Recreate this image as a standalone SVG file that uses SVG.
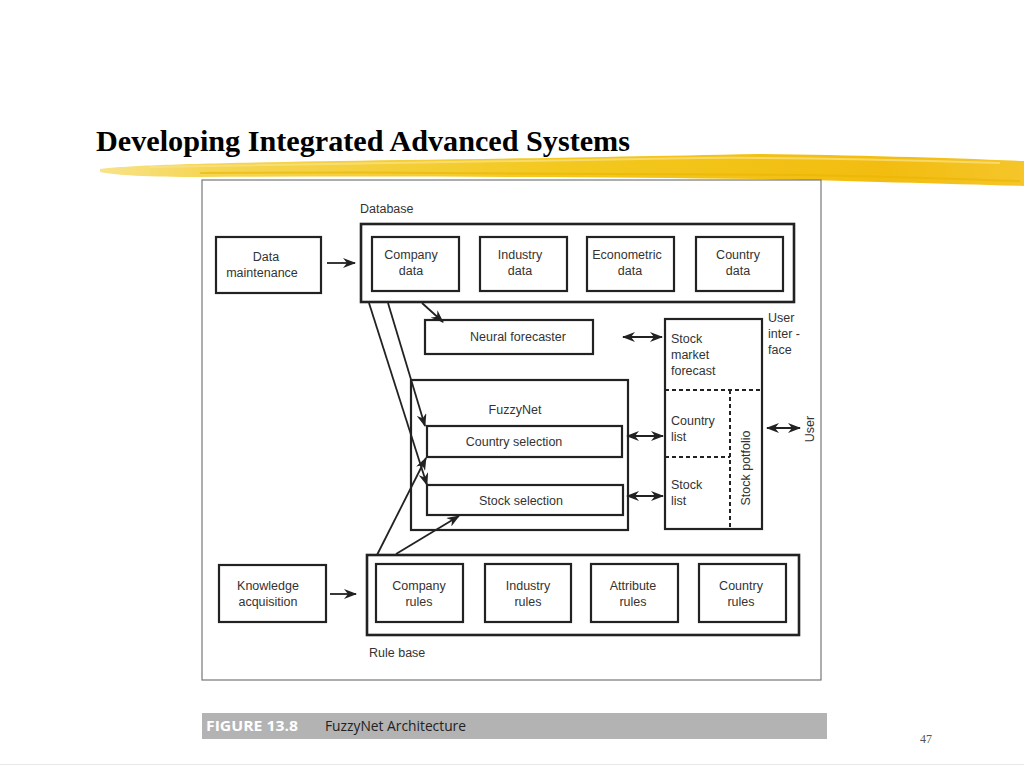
<svg xmlns="http://www.w3.org/2000/svg" width="1024" height="768" viewBox="0 0 1024 768">
<style>
.box{fill:#fff;stroke:#222;stroke-width:2.2}
.outer{fill:#fff;stroke:#222;stroke-width:2.6}
.t{font-family:"Liberation Sans",Arial,sans-serif;font-size:12.5px;fill:#333}
.tc{text-anchor:middle}
.dash{stroke:#222;stroke-width:2;stroke-dasharray:4,3;fill:none}
.ln{stroke:#222;stroke-width:1.8;fill:none}
</style>
<defs>
<marker id="ah" markerWidth="13" markerHeight="10" refX="12" refY="5" orient="auto" markerUnits="userSpaceOnUse">
<path d="M0,0 L13,5 L0,10 L4,5 Z" fill="#222"/>
</marker>
<marker id="as" markerWidth="13" markerHeight="10" refX="1" refY="5" orient="auto" markerUnits="userSpaceOnUse">
<path d="M13,0 L0,5 L13,10 L9,5 Z" fill="#222"/>
</marker>
<linearGradient id="yg" x1="0" x2="1" y1="0" y2="0">
<stop offset="0" stop-color="#f8e38a"/>
<stop offset="0.12" stop-color="#f5d552"/>
<stop offset="0.5" stop-color="#f3c81e"/>
<stop offset="0.85" stop-color="#f2bd10"/>
<stop offset="1" stop-color="#f5c52a"/>
</linearGradient>
</defs>
<rect width="1024" height="768" fill="#fff"/>
<g id="brush">
<path d="M100,169 C130,165 200,163 400,160 C500,159 600,157 760,154 C850,155 950,158 1024,161 L1024,186 C950,184 850,181 760,179 C600,177 400,176 200,177 C150,177 112,175 100,172 Z" fill="url(#yg)"/>
<path d="M150,167 C300,163 500,161 700,158 C800,157 900,160 1000,163" stroke="#fbe38a" stroke-width="2" fill="none" opacity="0.7"/>
<path d="M200,173 C400,172 600,173 800,175 C880,176 950,179 1020,181" stroke="#e9b400" stroke-width="2" fill="none" opacity="0.6"/>
</g>
<text x="96" y="151" font-family="Liberation Serif,'Times New Roman',serif" font-weight="bold" font-size="30" fill="#000" textLength="534" lengthAdjust="spacingAndGlyphs">Developing Integrated Advanced Systems</text>
<rect x="202" y="180" width="619" height="500" fill="#fff" stroke="#777" stroke-width="1.2"/>

<g id="database">
<text class="t" x="360" y="213">Database</text>
<rect class="outer" x="361" y="224" width="433" height="78"/>
</g>
<g id="company-data"><rect class="box" x="372" y="237" width="87" height="54"/><text class="t tc" x="411" y="259">Company</text><text class="t tc" x="411" y="275">data</text></g>
<g id="industry-data"><rect class="box" x="480" y="237" width="87" height="54"/><text class="t tc" x="520" y="259">Industry</text><text class="t tc" x="520" y="275">data</text></g>
<g id="econometric-data"><rect class="box" x="587" y="237" width="87" height="54"/><text class="t tc" x="627" y="259">Econometric</text><text class="t tc" x="630" y="275">data</text></g>
<g id="country-data"><rect class="box" x="696" y="237" width="87" height="54"/><text class="t tc" x="738" y="259">Country</text><text class="t tc" x="738" y="275">data</text></g>
<g id="data-maintenance"><rect class="box" x="216" y="237" width="105" height="56"/><text class="t tc" x="266" y="261">Data</text><text class="t tc" x="262" y="277">maintenance</text></g>

<g id="neural-forecaster"><rect class="box" x="425" y="320" width="168" height="34"/><text class="t tc" x="518" y="341">Neural forecaster</text></g>

<g id="user-interface">
<rect class="box" x="665" y="319" width="97" height="210"/>
<line class="dash" x1="665" y1="390" x2="762" y2="390"/>
<line class="dash" x1="730" y1="390" x2="730" y2="529"/>
<line class="dash" x1="665" y1="457" x2="730" y2="457"/>
<text class="t" x="671" y="343">Stock</text><text class="t" x="671" y="359">market</text><text class="t" x="671" y="375">forecast</text>
<text class="t" x="671" y="425">Country</text><text class="t" x="671" y="441">list</text>
<text class="t" x="671" y="489">Stock</text><text class="t" x="671" y="505">list</text>
<text class="t tc" transform="translate(750,468) rotate(-90)">Stock potfolio</text>
<text class="t" x="768" y="322">User</text><text class="t" x="768" y="338">inter -</text><text class="t" x="768" y="354">face</text>
</g>
<g id="user"><text class="t tc" transform="translate(814,429) rotate(-90)">User</text></g>

<g id="fuzzynet">
<rect class="box" x="411" y="380" width="217" height="150"/>
<text class="t tc" x="515" y="414">FuzzyNet</text>
</g>
<g id="country-selection"><rect class="box" x="427" y="426" width="195" height="31"/><text class="t tc" x="514" y="446">Country selection</text></g>
<g id="stock-selection"><rect class="box" x="427" y="485" width="196" height="30"/><text class="t tc" x="521" y="505">Stock selection</text></g>

<g id="rule-base">
<rect class="outer" x="367" y="555" width="432" height="80"/>
<text class="t" x="369" y="657">Rule base</text>
</g>
<g id="company-rules"><rect class="box" x="376" y="564" width="87" height="58"/><text class="t tc" x="419" y="590">Company</text><text class="t tc" x="419" y="606">rules</text></g>
<g id="industry-rules"><rect class="box" x="485" y="564" width="86" height="58"/><text class="t tc" x="528" y="590">Industry</text><text class="t tc" x="528" y="606">rules</text></g>
<g id="attribute-rules"><rect class="box" x="591" y="564" width="87" height="58"/><text class="t tc" x="633" y="590">Attribute</text><text class="t tc" x="633" y="606">rules</text></g>
<g id="country-rules"><rect class="box" x="699" y="564" width="87" height="58"/><text class="t tc" x="741" y="590">Country</text><text class="t tc" x="741" y="606">rules</text></g>
<g id="knowledge-acquisition"><rect class="box" x="219" y="565" width="107" height="57"/><text class="t tc" x="268" y="590">Knowledge</text><text class="t tc" x="268" y="606">acquisition</text></g>

<g id="connectors">
<line class="ln" x1="327" y1="263" x2="355" y2="263" marker-end="url(#ah)"/>
<line class="ln" x1="330" y1="594" x2="356" y2="594" marker-end="url(#ah)"/>
<line class="ln" x1="422" y1="303" x2="443" y2="322" marker-end="url(#ah)"/>
<line class="ln" x1="623" y1="337" x2="662" y2="337" marker-start="url(#as)" marker-end="url(#ah)"/>
<line class="ln" x1="627" y1="436" x2="663" y2="436" marker-start="url(#as)" marker-end="url(#ah)"/>
<line class="ln" x1="627" y1="496" x2="663" y2="496" marker-start="url(#as)" marker-end="url(#ah)"/>
<line class="ln" x1="767" y1="428" x2="800" y2="428" marker-start="url(#as)" marker-end="url(#ah)"/>
<line class="ln" x1="369" y1="303" x2="427" y2="485" marker-end="url(#ah)"/>
<line class="ln" x1="388" y1="303" x2="425" y2="426" marker-end="url(#ah)"/>
<line class="ln" x1="377" y1="555" x2="426" y2="458" marker-end="url(#ah)"/>
<line class="ln" x1="396" y1="554" x2="459" y2="516" marker-end="url(#ah)"/>
</g>

<g id="caption">
<rect x="202" y="713" width="625" height="26" fill="#b3b3b3"/>
<text x="206" y="731" font-family="'Open Sans','DejaVu Sans Condensed',sans-serif" font-weight="bold" font-size="14" fill="#fff" textLength="92" lengthAdjust="spacingAndGlyphs">FIGURE 13.8</text>
<text x="325" y="731" font-family="'Open Sans','Liberation Sans',sans-serif" font-size="14" fill="#222" textLength="141" lengthAdjust="spacingAndGlyphs">FuzzyNet Architecture</text>
</g>
<text x="920" y="743" font-family="'Liberation Serif',serif" font-size="12" fill="#555">47</text>
<line x1="0" y1="764.5" x2="1024" y2="764.5" stroke="#e8e8e8" stroke-width="1"/>
</svg>
